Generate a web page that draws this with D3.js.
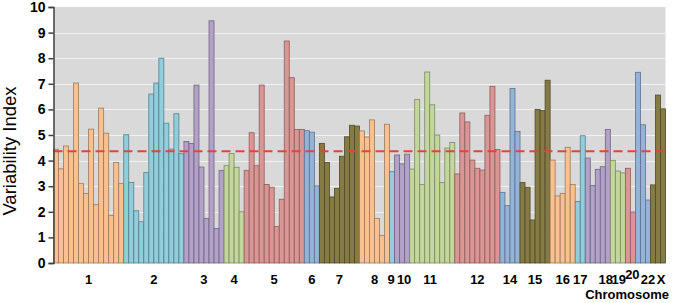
<!DOCTYPE html>
<html>
<head>
<meta charset="utf-8">
<script src="https://cdn.jsdelivr.net/npm/d3@7"></script>
<style>
  body { margin: 0; background: #fff; }
  text { font-family: Arial, "Liberation Sans", sans-serif; }
</style>
</head>
<body>
<div id="chart"></div>
<script>
// chromosome labels and how many bars each one has
const chromosomes = ["1","2","3","4","5","6","7","8","9","10","11","12","14","15","16","17","18","19","20","22","X"];
const barsPerChrom = [14, 12, 8, 4, 12, 3, 8, 6, 1, 3, 9, 9, 4, 6, 5, 2, 5, 3, 2, 3, 3];

// variability index per bar, in chromosome order
const variability = [
  4.44, 3.68, 4.57, 4.35, 7.03, 3.10, 2.72, 5.23, 2.28, 6.05, 5.07, 1.86, 3.93, 3.10,   // 1
  5.01, 3.15, 2.04, 1.61, 3.53, 6.60, 7.03, 8.00, 5.46, 4.45, 5.83, 4.27,               // 2
  4.75, 4.67, 6.95, 3.75, 1.74, 9.46, 1.35, 3.62,                                       // 3
  3.80, 4.28, 3.74, 2.00,                                                               // 4
  3.62, 5.09, 3.80, 6.95, 3.07, 2.96, 1.43, 2.49, 8.67, 7.24, 5.22, 5.22,               // 5
  5.17, 5.11, 3.01,                                                                     // 6
  4.67, 3.93, 2.58, 2.92, 4.17, 4.93, 5.38, 5.35,                                       // 7
  5.16, 4.92, 5.59, 1.74, 1.08, 5.42,                                                   // 8
  3.57,                                                                                 // 9
  4.22, 3.87, 4.25,                                                                     // 10
  3.67, 6.39, 3.07, 7.46, 6.18, 5.00, 3.14, 4.49, 4.71,                                 // 11
  3.48, 5.86, 5.51, 4.02, 3.70, 3.63, 5.77, 6.90, 4.43,                                 // 12
  2.76, 2.24, 6.82, 5.14,                                                               // 14
  3.14, 2.96, 1.68, 6.00, 5.96, 7.14,                                                   // 15
  4.02, 2.62, 2.72, 4.52, 3.07,                                                         // 16
  2.40, 4.97,                                                                           // 17
  4.10, 3.03, 3.66, 3.76, 5.22,                                                         // 18
  4.01, 3.59, 3.52,                                                                     // 19
  3.70, 1.99,                                                                           // 20
  7.45, 5.40, 2.46,                                                                     // 22
  3.05, 6.56, 6.02                                                                      // X
];

const threshold = 4.37;
const yTicks = [0, 1, 2, 3, 4, 5, 6, 7, 8, 9, 10];

// fill / edge colours repeat every 7 chromosomes
const fillCycle   = ["#FAC090", "#92CDDC", "#B3A2C7", "#C3D69B", "#DA9694", "#95B3D7", "#857B45"];
const strokeCycle = ["#9a7a5c", "#557f8a", "#6f6482", "#7d8a62", "#8c5e5d", "#5d7290", "#4f4928"];

// build one row per bar
const bars = [];
let idx = 0;
barsPerChrom.forEach(function (n, c) {
    for (let k = 0; k < n; k++) {
        bars.push({ i: idx, chrom: c, value: variability[idx] });
        idx++;
    }
});

const W = 674, H = 303;
const m = { left: 53.5, right: 665.5, top: 7, bottom: 263 };

const svg = d3.select("#chart").append("svg")
    .attr("width", W)
    .attr("height", H);

const x = d3.scaleBand()
    .domain(bars.map(d => d.i))
    .range([m.left, m.right])
    .padding(0);

const y = d3.scaleLinear()
    .domain([0, 10])
    .range([m.bottom, m.top]);

// plot background
svg.append("rect")
    .attr("x", m.left).attr("y", m.top)
    .attr("width", m.right - m.left).attr("height", m.bottom - m.top)
    .attr("fill", "#D9D9D9");

// white gridlines
svg.append("g").selectAll("line")
    .data(yTicks.filter(t => t > 0 && t < 10))
    .join("line")
    .attr("x1", m.left).attr("x2", m.right)
    .attr("y1", d => Math.round(y(d)) + 0.5)
    .attr("y2", d => Math.round(y(d)) + 0.5)
    .attr("stroke", "#F2F2F2")
    .attr("stroke-width", 1);

// bars
svg.append("g").selectAll("rect")
    .data(bars)
    .join("rect")
    .attr("x", d => x(d.i))
    .attr("y", d => y(d.value))
    .attr("width", x.bandwidth())
    .attr("height", d => y(0) - y(d.value))
    .attr("fill", d => fillCycle[d.chrom % 7])
    .attr("stroke", d => strokeCycle[d.chrom % 7])
    .attr("stroke-width", 0.8);

// threshold line
svg.append("line")
    .attr("x1", m.left).attr("x2", m.right)
    .attr("y1", y(threshold)).attr("y2", y(threshold))
    .attr("stroke", "#E8403A")
    .attr("stroke-width", 2)
    .attr("stroke-dasharray", "9,5");

// y axis
const yAxis = d3.axisLeft(y)
    .tickValues(yTicks)
    .tickSize(5)
    .tickFormat(d3.format("d"));

const gy = svg.append("g")
    .attr("transform", "translate(" + m.left + ",0)")
    .call(yAxis);
gy.select(".domain").attr("stroke", "#404040").attr("stroke-width", 1.5);
gy.selectAll(".tick line").attr("stroke", "#404040").attr("stroke-width", 1.5);
gy.selectAll(".tick text")
    .attr("x", -8)
    .attr("font-size", 14)
    .attr("font-weight", "bold")
    .attr("fill", "#000")
    .attr("font-family", "Arial, 'Liberation Sans', sans-serif");

// y title
svg.append("text")
    .attr("transform", "translate(16,151) rotate(-90)")
    .attr("text-anchor", "middle")
    .attr("font-size", 18.5)
    .attr("fill", "#000")
    .text("Variability Index");

// chromosome labels, centred under each group
const starts = [];
let s = 0;
barsPerChrom.forEach(function (n) { starts.push(s); s += n; });

// small nudges where the labels are crowded
const labelDx = { "9": -1, "10": 2, "11": -2, "18": 8, "19": 1, "20": 2, "22": 5, "X": 3 };
const labelDy = { "20": -5 };

svg.append("g").selectAll("text")
    .data(chromosomes)
    .join("text")
    .attr("x", (d, c) => {
        const a = x(starts[c]);
        const b = x(starts[c] + barsPerChrom[c] - 1) + x.bandwidth();
        return (a + b) / 2 + (labelDx[d] || 0);
    })
    .attr("y", d => 284 + (labelDy[d] || 0))
    .attr("text-anchor", "middle")
    .attr("font-size", 13)
    .attr("font-weight", "bold")
    .attr("fill", "#000")
    .text(d => d);

// x title
svg.append("text")
    .attr("x", 669)
    .attr("y", 299)
    .attr("text-anchor", "end")
    .attr("font-size", 13)
    .attr("font-weight", "bold")
    .attr("fill", "#000")
    .text("Chromosome");
</script>
</body>
</html>
